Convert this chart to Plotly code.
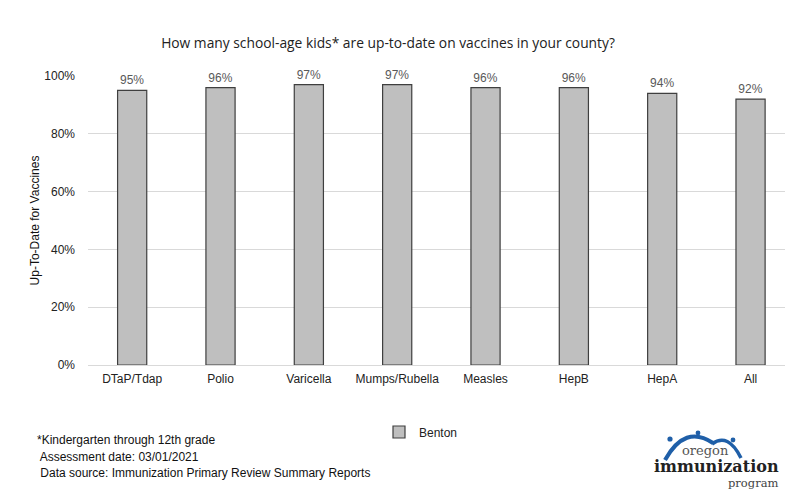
import plotly.graph_objects as go

# Up-to-date vaccination rates, Benton county
vaccines = ["DTaP/Tdap", "Polio", "Varicella", "Mumps/Rubella", "Measles", "HepB", "HepA", "All"]
benton = [95, 96, 97, 97, 96, 96, 94, 92]
y_ticks = [0, 20, 40, 60, 80, 100]
y_tick_labels = ["0%", "20%", "40%", "60%", "80%", "100%"]

W, H = 786, 493
ML, MR, MT, MB = 88, 1, 76, 128
PW, PH = W - ML - MR, H - MT - MB


def px(x, y):
    """Pixel position -> paper coordinates."""
    return (x - ML) / PW, (H - MB - y) / PH


fig = go.Figure()
fig.add_trace(go.Bar(
    x=vaccines,
    y=benton,
    name="Benton",
    width=0.33,
    marker=dict(color="#bfbfbf", line=dict(color="#3f3f3f", width=1.2)),
    text=[f"{v}%" for v in benton],
    textposition="outside",
    textfont=dict(family="Liberation Sans, Arial", size=12, color="#595959"),
    cliponaxis=False,
))

# Footnotes
notes = [
    ("*Kindergarten through 12th grade", 35, 440),
    (" Assessment date: 03/01/2021", 35, 457),
    (" Data source: Immunization Primary Review Summary Reports", 35, 473),
]
annotations = []
for txt, x, y in notes:
    ax, ay = px(x, y)
    annotations.append(dict(text=txt, x=ax, y=ay, xref="paper", yref="paper",
                            xanchor="left", yanchor="middle", showarrow=False,
                            font=dict(family="Liberation Sans, Arial", size=12, color="#111")))

# Program logo text
for txt, x, y, size, bold, col in [
    ("oregon", 705, 450, 13, False, "#555"),
    ("immunization", 716, 466, 16, True, "#222"),
    ("program", 753, 483, 11.5, False, "#444"),
]:
    ax, ay = px(x, y)
    annotations.append(dict(text=f"<b>{txt}</b>" if bold else txt, x=ax, y=ay,
                            xref="paper", yref="paper", xanchor="center", yanchor="middle",
                            showarrow=False, borderpad=0,
                            font=dict(family="DejaVu Serif, Liberation Serif", size=size, color=col)))

# Logo arcs and figures
shapes = []


def arc(p0, c, p1):
    (x0, y0), (cx, cy), (x1, y1) = px(*p0), px(*c), px(*p1)
    return f"M {x0},{y0} Q {cx},{cy} {x1},{y1}"


for p0, c, p1, w in [((665, 460), (685, 424), (713, 443), 4),
                     ((712, 444), (728, 432), (741, 458), 3.5)]:
    shapes.append(dict(type="path", path=arc(p0, c, p1), xref="paper", yref="paper",
                       line=dict(color="#1f5fa8", width=w)))
for cx, cy, r in [(670, 439, 2.6), (698, 433, 2.4), (733, 440, 2.4)]:
    x0, y0 = px(cx - r, cy + r)
    x1, y1 = px(cx + r, cy - r)
    shapes.append(dict(type="circle", x0=x0, y0=y0, x1=x1, y1=y1, xref="paper", yref="paper",
                       fillcolor="#1f5fa8", line=dict(width=0)))

lx, ly = px(379, 432)

fig.update_layout(
    width=W, height=H,
    margin=dict(l=ML, r=MR, t=MT, b=MB),
    paper_bgcolor="white", plot_bgcolor="white",
    title=dict(text="How many school-age kids* are up-to-date on vaccines in your county?",
               x=388 / W, xanchor="center", y=1 - 43 / H, yanchor="middle",
               font=dict(family="Open Sans, Noto Sans", size=13.8, color="#222")),
    xaxis=dict(range=[-0.5, 7.39], showgrid=False, showline=False, ticks="",
               ticklabelstandoff=5,
               tickfont=dict(family="Liberation Sans, Arial", size=12, color="#222")),
    yaxis=dict(range=[0, 100], tickvals=y_ticks, ticktext=y_tick_labels,
               gridcolor="#d9d9d9", gridwidth=1, zeroline=True, zerolinecolor="#d9d9d9",
               zerolinewidth=1, ticks="", ticklabelstandoff=12,
               tickfont=dict(family="Liberation Sans, Arial", size=12, color="#222"),
               title=dict(text="Up-To-Date for Vaccines", standoff=2,
                          font=dict(family="Liberation Sans, Arial", size=12, color="#111"))),
    showlegend=True,
    legend=dict(x=lx, y=ly, xanchor="left", yanchor="middle", orientation="h",
                font=dict(family="Liberation Sans, Arial", size=12, color="#222"),
                itemwidth=30, bgcolor="rgba(0,0,0,0)"),
    annotations=annotations,
    shapes=shapes,
    bargap=0.67,
)

fig.write_html("out.html")
